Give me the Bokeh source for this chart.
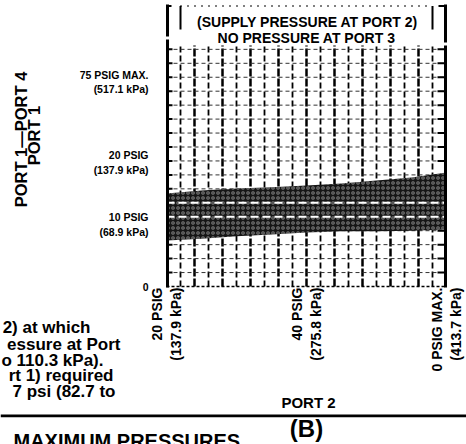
import numpy as np
from math import pi
from bokeh.plotting import figure
from bokeh.models import FixedTicker, Label, Range1d, LinearAxis
from bokeh.embed import file_html
from bokeh.resources import INLINE

# ---------------- data ----------------
band_port2_psi = [20, 25, 30, 35, 40, 45, 50, 55, 60]
band_low_psi = [7.4, 7.7, 8.1, 8.4, 8.7, 8.9, 8.9, 9.0, 9.2]
band_high_psi = [15.0, 15.5, 15.8, 16.0, 16.3, 16.6, 17.1, 17.6, 18.4]

x_tick_pos = [20, 40, 60]
x_tick_labels = ["20 PSIG\n(137.9 kPa)", "40 PSIG\n(275.8 kPa)", "0 PSIG MAX.\n(413.7 kPa)"]
y_tick_pos = [0, 10, 20, 33]
y_tick_labels = ["0", "10 PSIG\n(68.9 kPa)", "20 PSIG\n(137.9 kPa)", "75 PSIG MAX.\n(517.1 kPa)"]

x_grid_step = 2
y_grid_step = 2.25
y_grid_count = 18

header_lines = ["(SUPPLY PRESSURE AT PORT 2)", "NO PRESSURE AT PORT 3"]
y_title_lines = ["PORT 1\u2014PORT 4", "PORT 1"]
x_title = "PORT 2"
note_lines = ["2) at which", "essure at Port", "o 110.3 kPa).", "rt 1) required", "7 psi (82.7 to"]
panel_label = "(B)"
caption = "MAXIMUM PRESSURES"

# ---------------- layout helpers (screen px -> data) ----------------
W, H = 466, 444
FX0, FX1 = 166, 446          # screen x of 20 and 60 psig (port 2)
X0, X1 = 20, 60
PPY = 6.2                    # px per psig (port 1-4)
ZERO_SY = 286
AXIS_SY = 287


def dx(sx):
    return X0 + (sx - FX0) * (X1 - X0) / (FX1 - FX0)


def dy(sy):
    return (ZERO_SY - sy) / PPY


FONT = "Liberation Sans"

p = figure(width=W, height=H, output_backend="svg", toolbar_location=None,
           x_range=Range1d(dx(0), dx(W)), y_range=Range1d(dy(H), dy(0)),
           x_axis_location=None, y_axis_location=None, min_border=0)
p.outline_line_color = None
p.xgrid.visible = False
p.ygrid.visible = False
p.background_fill_color = "white"
p.border_fill_color = "white"

xaxis = LinearAxis(fixed_location=dy(AXIS_SY))
yaxis = LinearAxis(fixed_location=X0)
p.add_layout(xaxis, "below")
p.add_layout(yaxis, "left")

for ax in (xaxis, yaxis):
    ax.axis_line_color = None
    ax.major_tick_line_color = None
    ax.minor_tick_line_color = None
    ax.major_tick_out = 0
    ax.major_tick_in = 0
    ax.minor_tick_out = 0
    ax.minor_tick_in = 0
    ax.major_label_text_font = FONT
    ax.major_label_text_font_style = "bold"
    ax.major_label_text_color = "black"

xaxis.ticker = FixedTicker(ticks=x_tick_pos)
xaxis.major_label_overrides = dict(zip(x_tick_pos, x_tick_labels))
xaxis.major_label_orientation = pi / 2
xaxis.major_label_standoff = 0
xaxis.major_label_text_font_size = "14px"

yaxis.ticker = FixedTicker(ticks=y_tick_pos)
yaxis.major_label_overrides = dict(zip(y_tick_pos, y_tick_labels))
yaxis.major_label_standoff = 18
yaxis.major_label_text_font_size = "10.5px"

# ---------------- grid ----------------
xs_grid = np.arange(X0, X1 + 0.01, x_grid_step)
ys_grid = np.arange(y_grid_count) * y_grid_step
grid_top = dy(45)

inner = xs_grid[1:-1]
thick = [x for i, x in enumerate(inner) if i % 2 == 1]
thin = [x for i, x in enumerate(inner) if i % 2 == 0]
p.segment(x0=thick, y0=0, x1=thick, y1=grid_top, line_color="black", line_width=2.5, line_dash="8 2")
p.segment(x0=thin, y0=0, x1=thin, y1=grid_top, line_color="black", line_width=1.8, line_dash="6 3")

hy = ys_grid[1:]
p.segment(x0=X0, y0=hy, x1=X1, y1=hy, line_color="#333333", line_width=1, line_dash="4 3")
# stubs at borders
p.segment(x0=X0, y0=hy, x1=dx(172), y1=hy, line_color="black", line_width=2)
p.segment(x0=dx(437), y0=hy, x1=X1, y1=hy, line_color="black", line_width=2)

# ---------------- band ----------------
p.varea(x=band_port2_psi, y1=band_low_psi, y2=band_high_psi, fill_color="#151515",
        hatch_pattern="ring", hatch_color="white", hatch_scale=5, hatch_weight=1.1, hatch_alpha=0.45)
inside = [y for y in hy if min(band_high_psi) > y + 0.5 and max(band_low_psi) < y - 0.5]
p.segment(x0=X0, y0=inside, x1=X1, y1=inside, line_color="white", line_width=2, line_dash="8 4")

# ---------------- borders / brackets ----------------
top = dy(5.5)
bl, br = dx(167), dx(445)
p.segment(x0=[bl, bl, br, br], y0=[dy(287), dy(36), dy(287), dy(42)],
          x1=[bl, bl, br, br], y1=[dy(39), dy(4), dy(45), dy(4)], line_color="black", line_width=3)
p.segment(x0=[xs_grid[1], xs_grid[-2]], y0=dy(29), x1=[xs_grid[1], xs_grid[-2]], y1=top,
          line_color="black", line_width=2)
p.segment(x0=[bl, dx(438)], y0=top, x1=[dx(171), br], y1=top, line_color="black", line_width=2)
p.segment(x0=xs_grid[1], y0=top, x1=xs_grid[-2], y1=top, line_color="black", line_width=2, line_dash="1 6")
p.segment(x0=X0, y0=0, x1=X1, y1=0, line_color="black", line_width=1.5, line_dash="3 2")

# horizontal rule across the page
p.segment(x0=dx(0), y0=dy(415.3), x1=dx(W), y1=dy(415.3), line_color="black", line_width=2.7)


# ---------------- texts (y given as vertical centre) ----------------
def lab(text, sx, sy, size, align="left", angle=0):
    p.add_layout(Label(x=dx(sx), y=dy(sy), text=text, text_font=FONT, text_font_style="bold",
                       text_font_size=size, text_color="black", text_align=align,
                       text_baseline="middle", angle=angle))


lab(header_lines[0], 307, 21.5, "14px", align="center")
lab(header_lines[1], 306, 37.5, "14px", align="center")

lab(y_title_lines[0], 20, 139, "16.5px", align="center", angle=pi / 2)
lab(y_title_lines[1], 33, 135, "16.5px", align="center", angle=pi / 2)

lab(x_title, 308, 402, "15px", align="center")

note_right = [90, 120, 103, 113, 115]
note_mid = [327, 344, 359.5, 375, 391]
for t, r, m in zip(note_lines, note_right, note_mid):
    lab(t, r, m, "17px", align="right")

lab(panel_label, 306, 428, "24px", align="center")
lab(caption, 13, 440, "20px")

open("out.html", "w").write(file_html(p, INLINE))
